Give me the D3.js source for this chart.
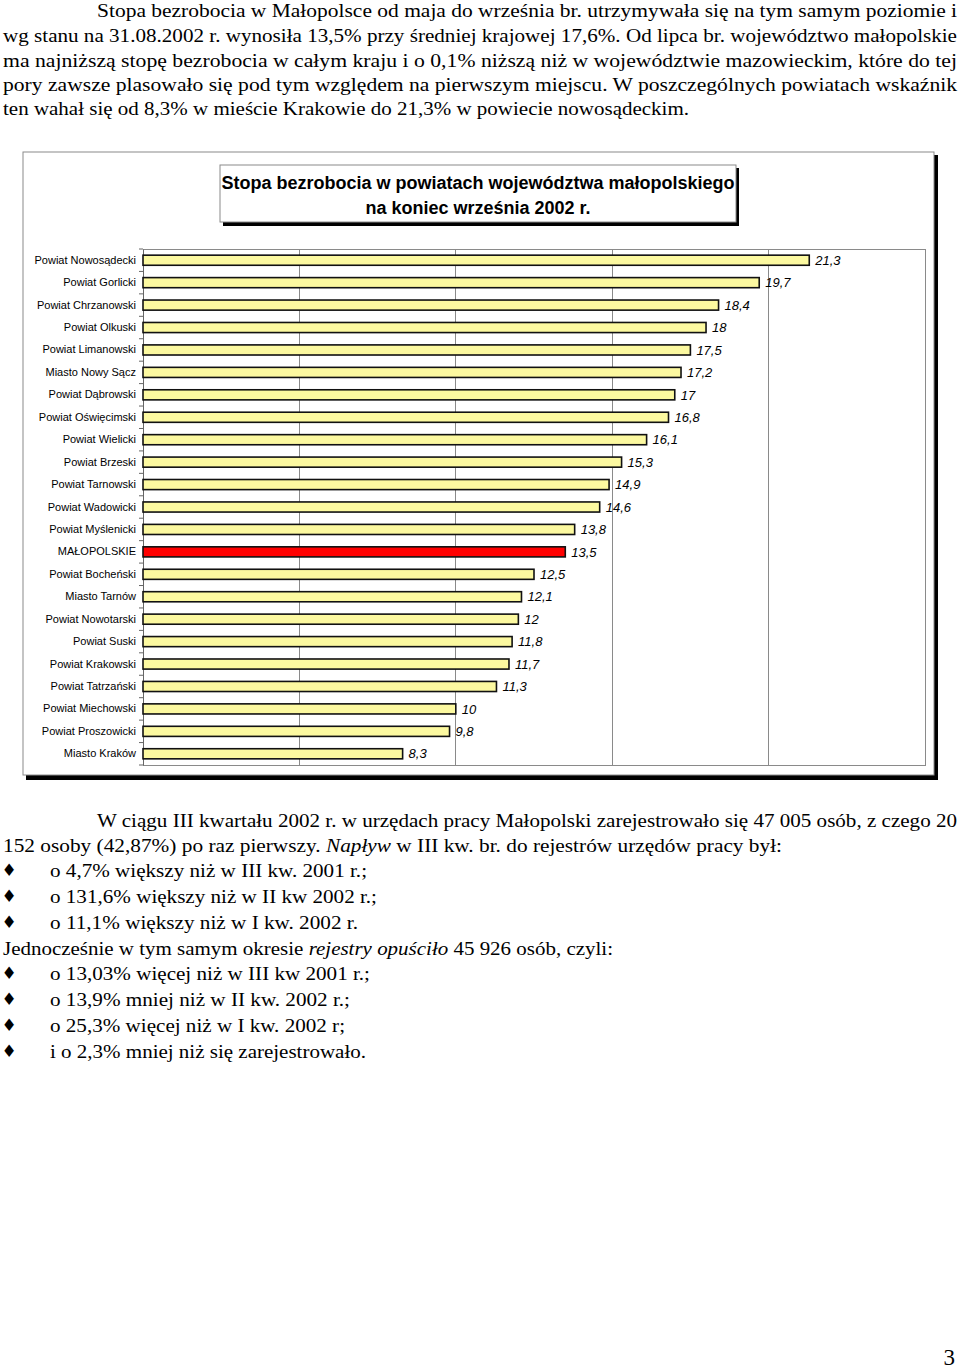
<!DOCTYPE html>
<html><head><meta charset="utf-8">
<script src="https://cdn.jsdelivr.net/npm/d3@7"></script>
<style>
html,body{margin:0;padding:0;background:#fff;}
svg{display:block;}
</style></head>
<body>
<script>
const categories = ["Powiat Nowosądecki","Powiat Gorlicki","Powiat Chrzanowski","Powiat Olkuski","Powiat Limanowski","Miasto Nowy Sącz","Powiat Dąbrowski","Powiat Oświęcimski","Powiat Wielicki","Powiat Brzeski","Powiat Tarnowski","Powiat Wadowicki","Powiat Myślenicki","MAŁOPOLSKIE","Powiat Bocheński","Miasto Tarnów","Powiat Nowotarski","Powiat Suski","Powiat Krakowski","Powiat Tatrzański","Powiat Miechowski","Powiat Proszowicki","Miasto Kraków"];
const values = [21.3,19.7,18.4,18,17.5,17.2,17,16.8,16.1,15.3,14.9,14.6,13.8,13.5,12.5,12.1,12,11.8,11.7,11.3,10,9.8,8.3];
const highlight = "MAŁOPOLSKIE";
const gridTicks = [0,5,10,15,20,25];
const titleLines = ["Stopa bezrobocia w powiatach województwa małopolskiego","na koniec września 2002 r."];

// body text: [segments, x, baseline y, width (justified / measured)]
const topPara = [
  {segs:[["Stopa bezrobocia w Małopolsce od maja do września br. utrzymywała się na tym samym poziomie i",0]], x:97, y:17, w:860},
  {segs:[["wg stanu na 31.08.2002 r. wynosiła 13,5% przy średniej krajowej 17,6%. Od lipca br. województwo małopolskie",0]], x:3, y:42, w:954},
  {segs:[["ma najniższą stopę bezrobocia w całym kraju i o 0,1% niższą niż w województwie mazowieckim, które do tej",0]], x:3, y:67, w:954},
  {segs:[["pory zawsze plasowało się pod tym względem na pierwszym miejscu. W poszczególnych powiatach wskaźnik",0]], x:3, y:91, w:954},
  {segs:[["ten wahał się od 8,3% w mieście Krakowie do 21,3% w powiecie nowosądeckim.",0]], x:3, y:115, w:686}
];
const bottomPara = [
  {segs:[["W ciągu III kwartału 2002 r. w urzędach pracy Małopolski zarejestrowało się 47 005 osób, z czego 20",0]], x:97, y:827, w:860, b:false},
  {segs:[["152 osoby (42,87%) po raz pierwszy. ",0],["Napływ",1],[" w III kw. br. do rejestrów urzędów pracy był:",0]], x:3, y:852, w:779, b:false},
  {segs:[["o 4,7% większy niż w III kw. 2001 r.;",0]], x:50, y:877, w:317, b:true},
  {segs:[["o 131,6% większy niż w II kw 2002 r.;",0]], x:50, y:903, w:327, b:true},
  {segs:[["o 11,1% większy niż w I kw. 2002 r.",0]], x:50, y:929, w:308, b:true},
  {segs:[["Jednocześnie w tym samym okresie ",0],["rejestry opuściło",1],[" 45 926 osób, czyli:",0]], x:3, y:955, w:610, b:false},
  {segs:[["o 13,03% więcej niż w III kw 2001 r.;",0]], x:50, y:980, w:320, b:true},
  {segs:[["o 13,9% mniej niż w II kw. 2002 r.;",0]], x:50, y:1006, w:300, b:true},
  {segs:[["o 25,3% więcej niż w I kw. 2002 r;",0]], x:50, y:1032, w:295, b:true},
  {segs:[["i o 2,3% mniej niż się zarejestrowało.",0]], x:50, y:1058, w:316, b:true}
];

const W = 960, H = 1369;
const svg = d3.select("body").append("svg").attr("width", W).attr("height", H);
const serif = "'Liberation Serif','Times New Roman',serif";
const sans = "'Liberation Sans',Arial,sans-serif";

function drawLines(lines){
  lines.forEach(l => {
    const t = svg.append("text").attr("x", l.x).attr("y", l.y)
      .attr("font-family", serif).attr("font-size", 19).attr("fill", "#000")
      .attr("textLength", l.w).attr("lengthAdjust", "spacingAndGlyphs");
    l.segs.forEach(s => t.append("tspan").text(s[0]).attr("font-style", s[1] ? "italic" : "normal"));
    if (l.b) {
      svg.append("text").attr("x", 9).attr("y", l.y - 1).attr("text-anchor","middle")
        .attr("font-family", "'DejaVu Sans',sans-serif").attr("font-size", 17).text("\u2666");
    }
  });
}
drawLines(topPara);
drawLines(bottomPara);

svg.append("text").attr("x", 955).attr("y", 1365).attr("text-anchor","end")
  .attr("font-family", serif).attr("font-size", 23).text("3");

// chart frame
const frame = {x:23, y:152, w:911, h:623};
svg.append("rect").attr("x", frame.x+3).attr("y", frame.y+3).attr("width", frame.w+1).attr("height", frame.h+2).attr("fill", "#000");
svg.append("rect").attr("x", frame.x).attr("y", frame.y).attr("width", frame.w).attr("height", frame.h)
  .attr("fill", "#fff").attr("stroke", "#8a8a8a").attr("stroke-width", 1);

// title box
const tb = {x:220, y:165, w:516, h:57};
svg.append("rect").attr("x", tb.x+3).attr("y", tb.y+3).attr("width", tb.w).attr("height", tb.h+1).attr("fill", "#000");
svg.append("rect").attr("x", tb.x).attr("y", tb.y).attr("width", tb.w).attr("height", tb.h)
  .attr("fill", "#fff").attr("stroke", "#8a8a8a").attr("stroke-width", 1);
titleLines.forEach((s,i) => {
  svg.append("text").attr("x", 478).attr("y", 189 + i*25).attr("text-anchor", "middle")
    .attr("font-family", sans).attr("font-weight", "bold").attr("font-size", 18).attr("fill","#000").text(s);
});

// plot
const P = {l:143, r:925, t:249, b:765};
const x = d3.scaleLinear().domain([0,25]).range([P.l, P.r]);
const y = d3.scaleBand().domain(categories).range([P.t, P.b]).paddingInner(0.55).paddingOuter(0.275);
const g = svg.append("g");

// grid lines
g.selectAll(".grid").data(gridTicks.slice(1, -1)).enter().append("line")
  .attr("x1", d => x(d)).attr("x2", d => x(d)).attr("y1", P.t).attr("y2", P.b)
  .attr("stroke", "#8a8a8a").attr("stroke-width", 1).attr("shape-rendering","crispEdges");
// plot border
g.append("rect").attr("x", P.l).attr("y", P.t).attr("width", P.r-P.l).attr("height", P.b-P.t)
  .attr("fill","none").attr("stroke","#8a8a8a").attr("stroke-width",1).attr("shape-rendering","crispEdges");

// y axis labels
const yAxis = d3.axisLeft(y).tickSize(0).tickPadding(7);
const ag = g.append("g").attr("transform", `translate(${P.l},0)`).call(yAxis);
ag.select(".domain").attr("stroke", "#666");
ag.selectAll("text").attr("font-family", sans).attr("font-size", 11).attr("fill", "#000");
// boundary tick marks
const step = y.step();
g.selectAll(".btick").data(d3.range(categories.length + 1)).enter().append("line")
  .attr("x1", P.l - 4).attr("x2", P.l).attr("y1", i => P.t + i*step).attr("y2", i => P.t + i*step)
  .attr("stroke", "#666").attr("stroke-width", 1);

// bars
g.selectAll(".bar").data(categories).enter().append("rect")
  .attr("x", x(0)).attr("y", d => y(d))
  .attr("width", (d,i) => x(values[i]) - x(0)).attr("height", y.bandwidth())
  .attr("fill", d => d === highlight ? "#ff0000" : "#fcf9a0")
  .attr("stroke", "#111").attr("stroke-width", 1.6);

// value labels
const fmt = v => d3.format("~g")(v).replace(".", ",");
g.selectAll(".val").data(categories).enter().append("text")
  .attr("x", (d,i) => x(values[i]) + 6).attr("y", d => y(d) + y.bandwidth()/2).attr("dy", "0.36em")
  .attr("font-family", sans).attr("font-style", "italic").attr("font-size", 13).attr("fill", "#000")
  .text((d,i) => fmt(values[i]));
</script>
</body></html>
